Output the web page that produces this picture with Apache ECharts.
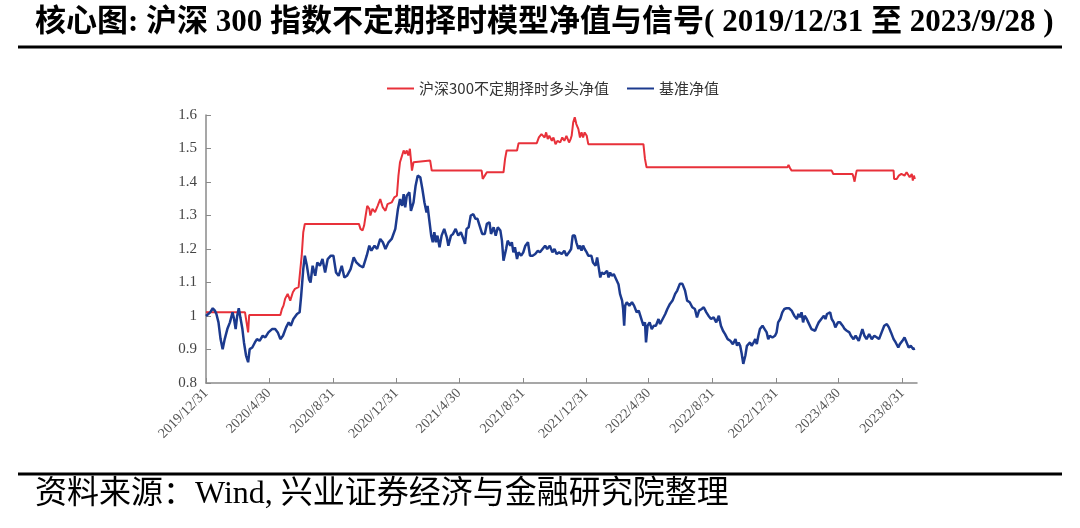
<!DOCTYPE html>
<html>
<head>
<meta charset="utf-8">
<script src="https://cdn.jsdelivr.net/npm/echarts@6/dist/echarts.min.js"></script>
<style>
html,body{margin:0;padding:0;background:#fff;}
#c{width:1080px;height:528px;}
</style>
</head>
<body>
<div id="c"></div>
<script>
// x positions are calendar days counted from 2019/12/31
const tickLabels = ['2019/12/31','2020/4/30','2020/8/31','2020/12/31','2021/4/30','2021/8/31','2021/12/31','2022/4/30','2022/8/31','2022/12/31','2023/4/30','2023/8/31'];
const endDate = '2023/9/28';

const seriesNames = ['沪深300不定期择时多头净值', '基准净值'];

const redDays = [0,75,78,81,83,143,146,149,152,157,162,167,171,178,181,184,187,190,294,297,301,304,307,310,314,316,320,325,330,335,340,345,349,351,357,362,367,370,373,377,380,383,386,389,392,396,399,402,431,434,530,532,536,540,572,575,578,598,601,636,640,645,651,654,657,660,665,668,672,676,681,685,689,693,698,701,703,706,709,712,716,719,722,725,728,732,735,841,844,847,1118,1120,1123,1126,1203,1206,1243,1245,1247,1249,1251,1322,1323,1328,1332,1337,1343,1347,1350,1353,1357,1359,1361,1363];
const redVals = [1.011,1.011,0.981,0.951,1.003,1.003,1.021,1.031,1.051,1.066,1.046,1.071,1.081,1.086,1.086,1.180,1.250,1.275,1.275,1.260,1.255,1.270,1.300,1.329,1.320,1.300,1.320,1.310,1.329,1.349,1.324,1.314,1.334,1.329,1.339,1.354,1.359,1.419,1.459,1.479,1.494,1.484,1.494,1.479,1.499,1.434,1.459,1.464,1.464,1.434,1.434,1.409,1.419,1.429,1.429,1.469,1.494,1.494,1.516,1.516,1.533,1.543,1.533,1.548,1.528,1.538,1.523,1.533,1.513,1.523,1.518,1.533,1.523,1.538,1.518,1.528,1.538,1.578,1.593,1.573,1.558,1.533,1.548,1.533,1.548,1.538,1.513,1.513,1.469,1.444,1.444,1.451,1.441,1.434,1.434,1.424,1.424,1.414,1.401,1.419,1.434,1.434,1.409,1.409,1.419,1.424,1.419,1.429,1.424,1.414,1.424,1.404,1.419,1.409];

const blueDays = [0,8,13,17,20,24,28,32,36,41,46,51,54,57,60,63,66,70,73,77,81,84,89,94,98,103,109,114,120,127,133,138,143,148,154,159,163,168,175,180,183,187,190,194,198,201,205,210,214,219,224,229,234,240,245,250,255,261,266,271,278,284,289,296,302,309,314,318,324,329,335,340,345,351,357,364,369,373,377,380,383,386,391,394,399,403,407,412,416,420,424,426,429,433,436,439,442,445,449,453,458,463,466,471,475,480,485,490,495,498,501,505,509,514,518,522,526,531,536,540,545,548,553,557,561,566,569,572,577,580,585,588,591,594,598,601,606,610,614,619,623,628,633,638,642,647,652,656,661,666,670,674,679,684,689,693,698,702,705,709,712,716,719,722,725,728,732,735,738,741,744,749,752,755,758,761,765,768,771,774,777,780,784,787,790,793,796,800,802,804,806,809,814,819,823,828,832,835,838,841,844,846,849,853,857,861,865,870,873,878,883,887,892,897,902,906,911,916,921,925,930,935,940,944,948,953,957,962,966,971,976,981,986,990,994,998,1003,1008,1013,1018,1021,1024,1027,1030,1033,1037,1040,1043,1046,1049,1053,1056,1059,1062,1065,1070,1074,1078,1081,1084,1089,1094,1097,1100,1104,1108,1112,1116,1121,1126,1131,1136,1139,1142,1145,1148,1151,1155,1158,1161,1164,1167,1171,1175,1178,1183,1188,1191,1194,1197,1200,1203,1207,1210,1215,1219,1224,1228,1232,1237,1240,1245,1249,1255,1258,1262,1266,1270,1275,1280,1285,1290,1294,1299,1304,1309,1313,1317,1322,1326,1331,1334,1339,1343,1347,1351,1355,1360,1363];
const blueVals = [1.000,1.011,1.023,1.016,1.006,0.981,0.931,0.901,0.931,0.961,0.981,1.011,0.991,0.961,1.001,1.023,0.996,0.961,0.921,0.882,0.862,0.901,0.906,0.921,0.931,0.926,0.941,0.936,0.951,0.961,0.961,0.951,0.931,0.941,0.966,0.981,0.971,0.991,1.006,1.011,1.061,1.140,1.180,1.150,1.110,1.100,1.150,1.120,1.160,1.150,1.170,1.130,1.170,1.180,1.180,1.130,1.120,1.150,1.115,1.120,1.140,1.175,1.160,1.150,1.145,1.180,1.210,1.195,1.210,1.200,1.230,1.220,1.200,1.220,1.230,1.260,1.319,1.349,1.329,1.364,1.324,1.359,1.369,1.314,1.339,1.389,1.419,1.414,1.379,1.339,1.309,1.329,1.290,1.240,1.220,1.250,1.220,1.240,1.205,1.240,1.260,1.235,1.210,1.240,1.245,1.260,1.240,1.250,1.230,1.215,1.260,1.265,1.300,1.304,1.290,1.290,1.270,1.245,1.245,1.275,1.280,1.245,1.265,1.240,1.265,1.255,1.225,1.165,1.200,1.225,1.210,1.220,1.190,1.205,1.170,1.190,1.180,1.190,1.210,1.220,1.180,1.180,1.185,1.195,1.190,1.200,1.210,1.200,1.210,1.190,1.200,1.185,1.190,1.185,1.195,1.180,1.190,1.200,1.240,1.240,1.220,1.200,1.210,1.195,1.210,1.200,1.190,1.180,1.175,1.180,1.160,1.150,1.175,1.145,1.115,1.130,1.125,1.125,1.135,1.115,1.130,1.120,1.125,1.115,1.110,1.095,1.066,1.046,1.021,0.971,1.031,1.041,1.031,1.041,1.031,1.011,1.016,1.001,0.996,0.971,0.981,0.921,0.971,0.981,0.961,0.971,0.971,0.991,0.976,0.991,1.006,1.021,1.036,1.046,1.066,1.076,1.096,1.096,1.076,1.046,1.041,1.026,1.021,0.996,1.016,1.021,1.026,1.011,1.001,0.991,0.996,0.981,1.001,0.971,0.956,0.946,0.931,0.926,0.916,0.931,0.911,0.921,0.911,0.887,0.857,0.882,0.911,0.916,0.921,0.911,0.921,0.931,0.916,0.941,0.961,0.971,0.961,0.951,0.931,0.941,0.936,0.941,0.951,0.981,0.991,1.011,1.021,1.023,1.023,1.016,1.001,0.991,1.006,0.996,1.011,0.981,1.001,0.991,0.981,0.976,0.961,0.966,0.956,0.971,0.981,0.991,1.001,0.991,1.006,1.011,1.011,0.991,0.981,0.966,0.981,0.981,0.971,0.961,0.956,0.951,0.941,0.931,0.941,0.926,0.941,0.961,0.941,0.931,0.946,0.931,0.941,0.936,0.931,0.951,0.971,0.976,0.966,0.951,0.931,0.921,0.906,0.916,0.926,0.936,0.921,0.906,0.911,0.901,0.903];

const yMin = 0.8, yMax = 1.6, yStep = 0.1;

function dayOf(s) {
  const p = s.split('/').map(Number);
  return Math.round((Date.UTC(p[0], p[1] - 1, p[2]) - Date.UTC(2019, 11, 31)) / 86400000);
}
const tickDays = tickLabels.map(dayOf);
const endDay = dayOf(endDate);

const zip = (xs, ys) => xs.map((x, i) => [x, ys[i]]);

const chart = echarts.init(document.getElementById('c'), null, {renderer: 'canvas'});
const serif = '"Liberation Serif", "Times New Roman", "Noto Sans CJK SC", serif';
chart.setOption({
  animation: false,
  backgroundColor: '#fff',
  grid: {left: 206, right: 163, top: 115, bottom: 145, containLabel: false},
  legend: {
    top: 76, left: 382,
    itemWidth: 27, itemHeight: 2, icon: 'rect', itemGap: 18,
    textStyle: {fontFamily: '"Noto Sans CJK SC", sans-serif', fontSize: 15, color: '#333'},
    data: seriesNames
  },
  xAxis: {
    type: 'value', min: 0, max: endDay,
    splitLine: {show: false},
    axisLine: {lineStyle: {color: '#8a8a8a', width: 1.5}},
    axisTick: {show: true, inside: true, length: 5, customValues: tickDays, lineStyle: {color: '#8a8a8a'}},
    axisLabel: {
      customValues: tickDays, rotate: 45, margin: 8,
      fontFamily: serif, fontSize: 14, color: '#555',
      formatter: v => { const i = tickDays.indexOf(Math.round(v)); return i >= 0 ? tickLabels[i] : ''; }
    }
  },
  yAxis: {
    type: 'value', min: yMin, max: yMax, interval: yStep,
    splitLine: {show: false},
    axisLine: {show: true, lineStyle: {color: '#8a8a8a', width: 1.5}},
    axisTick: {show: true, inside: true, length: 5, lineStyle: {color: '#8a8a8a'}},
    axisLabel: {margin: 9, fontFamily: serif, fontSize: 15, color: '#444',
      formatter: v => String(Math.round(v * 10) / 10)}
  },
  series: [
    {name: seriesNames[0], type: 'line', data: zip(redDays, redVals), showSymbol: false,
     lineStyle: {color: '#e8313a', width: 2}, itemStyle: {color: '#e8313a'}},
    {name: seriesNames[1], type: 'line', data: zip(blueDays, blueVals), showSymbol: false,
     lineStyle: {color: '#1c3a8e', width: 2.5}, itemStyle: {color: '#1c3a8e'}}
  ],
  graphic: [
    {type: 'text', left: 35, top: 7, style: {
      text: '核心图: 沪深 300 指数不定期择时模型净值与信号( 2019/12/31 至 2023/9/28 )',
      font: 'bold 31px ' + serif, fill: '#000'}},
    {type: 'line', shape: {x1: 18, y1: 47, x2: 1062, y2: 47}, style: {stroke: '#000', lineWidth: 3}},
    {type: 'line', shape: {x1: 18, y1: 474, x2: 1062, y2: 474}, style: {stroke: '#000', lineWidth: 3}},
    {type: 'text', left: 35, top: 479, style: {
      text: '资料来源：Wind, 兴业证券经济与金融研究院整理',
      font: '32px ' + serif, fill: '#000'}}
  ]
});
</script>
</body>
</html>
